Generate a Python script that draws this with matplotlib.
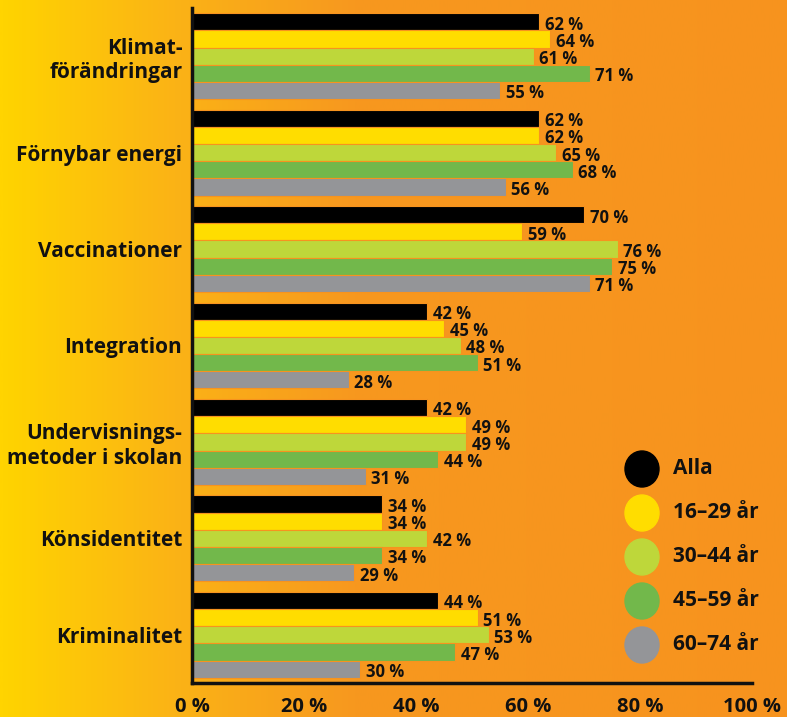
import matplotlib.pyplot as plt
import numpy as np
from matplotlib.colors import LinearSegmentedColormap
from matplotlib.patches import Ellipse

plt.rcParams['font.family'] = ['Open Sans', 'DejaVu Sans']

# categories and series (share in percent)
categories = ['Klimat-\nförändringar', 'Förnybar energi', 'Vaccinationer', 'Integration',
              'Undervisnings-\nmetoder i skolan', 'Könsidentitet', 'Kriminalitet']
series_names = ['Alla', '16–29 år', '30–44 år', '45–59 år', '60–74 år']
alla = [62, 62, 70, 42, 42, 34, 44]
age_16_29 = [64, 62, 59, 45, 49, 34, 51]
age_30_44 = [61, 65, 76, 48, 49, 42, 53]
age_45_59 = [71, 68, 75, 51, 44, 34, 47]
age_60_74 = [55, 56, 71, 28, 31, 29, 30]
colors = ['#000000', '#FFDD00', '#BED73A', '#72B84B', '#949598']
ticks = [0, 20, 40, 60, 80, 100]

fig = plt.figure(figsize=(7.87, 7.17), dpi=100)

# background gradient yellow -> orange
bg = fig.add_axes([0, 0, 1, 1])
cmap = LinearSegmentedColormap.from_list('bg', [(0, '#FFD400'), (0.22, '#FBB316'), (0.45, '#F7981F'), (1, '#F7931E')])
bg.imshow(np.linspace(0, 1, 400).reshape(1, -1), cmap=cmap, aspect='auto', extent=[0, 1, 0, 1])
bg.set_axis_off()

ax = fig.add_axes([192 / 787, 1 - 683 / 717, 560 / 787, 675 / 717])
ax.patch.set_alpha(0)

all_series = [alla, age_16_29, age_30_44, age_45_59, age_60_74]
slot = 0.178
y = np.arange(len(categories))
for i, (vals, col) in enumerate(zip(all_series, colors)):
    pos = y + (i - 2) * slot
    ax.barh(pos, vals, height=slot, color=col, edgecolor='#F7931E', linewidth=0.8)
    for p, v in zip(pos, vals):
        ax.text(v + 1.0, p + 0.03, f'{v} %', va='center', ha='left',
                fontsize=12, fontweight='bold', color='#111111')

ax.set_xlim(0, 100)
ax.set_ylim(len(categories) - 0.5, -0.5)
ax.set_yticks(y)
ax.set_yticklabels(categories, fontsize=15, fontweight='bold', linespacing=1.2)
ax.set_xticks(ticks)
ax.set_xticklabels([f'{t} %' for t in ticks], fontsize=14.5, fontweight='bold')
ax.tick_params(axis='both', length=0, colors='#111111')
ax.tick_params(axis='x', pad=10)
ax.tick_params(axis='y', pad=7)
for s in ['top', 'right']:
    ax.spines[s].set_visible(False)
for s in ['left', 'bottom']:
    ax.spines[s].set_linewidth(2.5)
    ax.spines[s].set_color('#111111')

# legend with big dots
for i, (name, col) in enumerate(zip(series_names, colors)):
    yy = 1 - (469 + i * 44) / 717
    fig.patches.append(Ellipse((642 / 787, yy), 34 / 787, 36 / 717, transform=fig.transFigure,
                               color=col, figure=fig))
    fig.text(673 / 787, yy, name, fontsize=15, fontweight='bold', va='center', ha='left', color='#111111')

plt.savefig('out.png', dpi=100)
